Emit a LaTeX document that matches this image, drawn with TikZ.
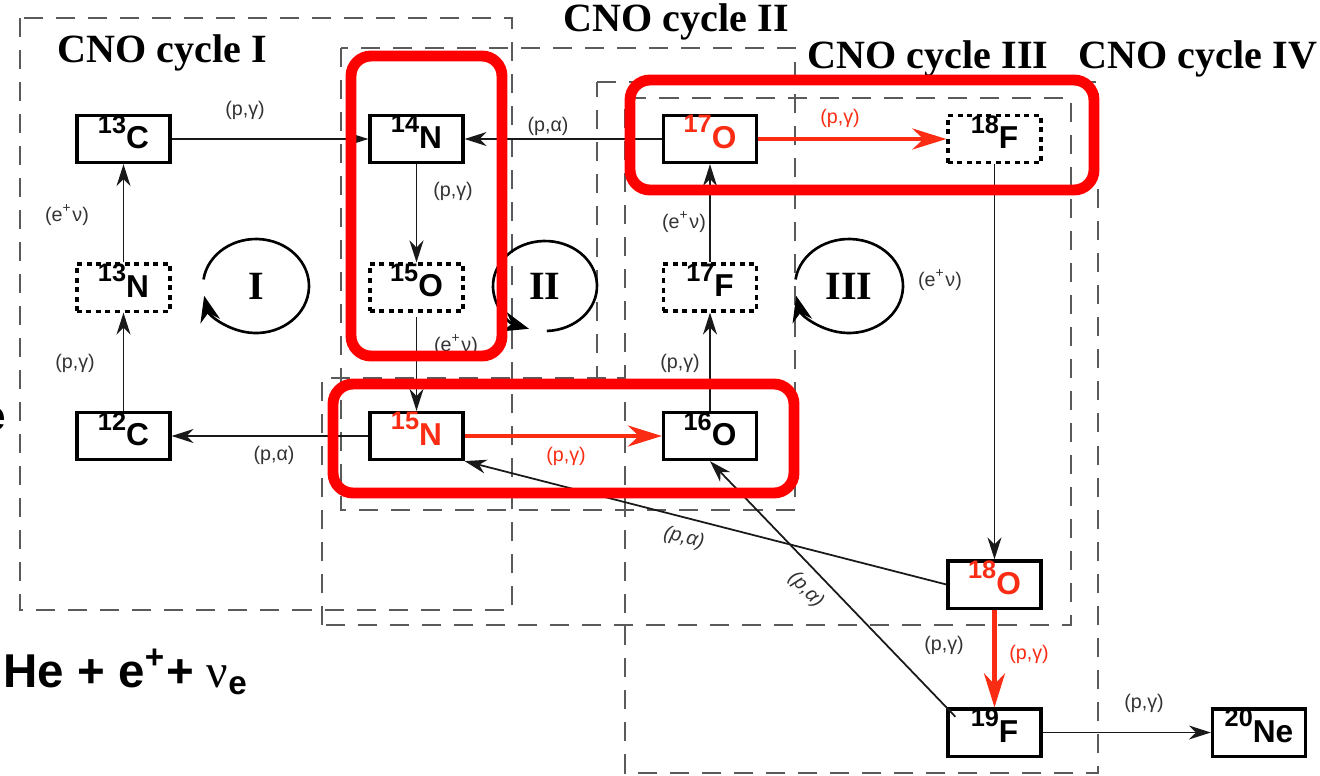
\documentclass[tikz,border=0pt]{standalone}
\usepackage{fontspec}
\setmainfont{Liberation Serif}
\setsansfont{Liberation Sans}
\usetikzlibrary{arrows.meta}

\definecolor{rxn}{RGB}{250,45,20}
\definecolor{hl}{RGB}{255,0,0}
\definecolor{framegray}{RGB}{90,90,90}

% isotope label: mass number raised, element symbol, strut below
\newcommand{\iso}[2]{{\fontsize{7.2}{7}\selectfont\raisebox{4.4pt}{#1}}#2\rule[-1.4mm]{0pt}{1mm}}

\begin{document}
\begin{tikzpicture}[x=0.01cm, y=-0.01cm,
  nuc/.style={draw, line width=0.9pt, minimum width=0.93cm, minimum height=0.47cm, inner sep=0pt,
    font=\fontsize{9}{9}\selectfont\sffamily\bfseries},
  nucdot/.style={nuc, dash pattern=on 0.5mm off 0.45mm},
  rx/.style={font=\fontsize{5.6}{6}\selectfont\sffamily, text=black!80, inner sep=0pt},
  rxred/.style={rx, text=rxn},
  cyctitle/.style={font=\fontsize{11.4}{13}\selectfont\bfseries, anchor=base west, inner sep=0pt},
  roman/.style={font=\fontsize{11.4}{13}\selectfont\bfseries, inner sep=0pt},
  cycframe/.style={draw=framegray, line width=0.4pt, dash pattern=on 1.9mm off 1.3mm},
  rxarrow/.style={draw=black!90, line width=0.5pt, -{Stealth[length=2.2mm,width=1.4mm]}},
  rxarrowred/.style={draw=rxn, line width=1.2pt, -{Stealth[length=3.4mm,width=2.1mm]}},
  cycarrow/.style={line width=0.75pt, -{Stealth[length=2.6mm,width=2mm]}},
  hilite/.style={draw=hl, line width=3.1pt, rounded corners=0.2cm}]

  \path[use as bounding box, fill=white] (0,0) rectangle (1320,775);

  % Cycle frames
  \draw[cycframe] (20,18) rectangle (512,610);
  \draw[cycframe] (341,48) rectangle (795,510);
  \draw[cycframe] (322,625) -- (322,378) -- (625,378) -- (625,98) -- (1071,98) -- (1071,625) -- cycle;
  \draw[cycframe] (597,82) -- (1098,82) -- (1098,773) -- (625,773) -- (625,378) -- (597,378) -- cycle;

  % Titles
  \node[cyctitle] (tI) at (57,62) {CNO cycle I};
  \node[cyctitle] (tII) at (563,31) {CNO cycle II};
  \node[cyctitle] (tIII) at (807,68) {CNO cycle III};
  \node[cyctitle] (tIV) at (1078,68) {CNO cycle IV};

  % Nuclei
  \node[nuc] (c13) at (123.5,139) {\iso{13}{C}};
  \node[nuc] (n14) at (416.5,139) {\iso{14}{N}};
  \node[nuc, text=rxn] (o17) at (710,139) {\iso{17}{O}};
  \node[nucdot] (f18) at (994.5,139) {\iso{18}{F}};
  \node[nucdot] (n13) at (123.5,287.5) {\iso{13}{N}};
  \node[nucdot] (o15) at (416.5,287.5) {\iso{15}{O}};
  \node[nucdot] (f17) at (710,287.5) {\iso{17}{F}};
  \node[nuc] (c12) at (123.5,436) {\iso{12}{C}};
  \node[nuc, text=rxn] (n15) at (416.5,436) {\iso{15}{N}};
  \node[nuc] (o16) at (710,436) {\iso{16}{O}};
  \node[nuc, text=rxn] (o18) at (994.5,584.5) {\iso{18}{O}};
  \node[nuc] (f19) at (994.5,732.5) {\iso{19}{F}};
  \node[nuc] (ne20) at (1259,732.5) {\iso{20}{Ne}};

  % Reactions
  \draw[rxarrow] (c13) -- (n14);
  \draw[rxarrow] (o17) -- (n14);
  \draw[rxarrow] (n14) -- (o15);
  \draw[rxarrow] (n13) -- (c13);
  \draw[rxarrow] (c12) -- (n13);
  \draw[rxarrow, shorten <=0.4mm] (o15) -- (n15);
  \draw[rxarrow] (n15) -- (c12);
  \draw[rxarrow] (o16) -- (f17);
  \draw[rxarrow] (f17) -- (o17);
  \draw[rxarrow] (f18) -- (o18);
  \draw[rxarrow] (o18.west) -- (n15.south east);
  \draw[rxarrow, shorten <=-1.3mm] (f19.north west) -- (o16.south);
  \draw[rxarrow] (f19) -- (ne20);
  \draw[rxarrowred] (n15) -- (o16);
  \draw[rxarrowred] (o17) -- (f18);
  \draw[rxarrowred] (o18) -- (f19);

  % Reaction labels
  \node[rx] (l1) at (245,110) {(p,γ)};
  \node[rx] (l2) at (548,126) {(p,α)};
  \node[rx] (l3) at (453,191) {(p,γ)};
  \node[rx] (l4) at (67,215) {(e\textsuperscript{+}ν)};
  \node[rx] (l5) at (456,345) {(e\textsuperscript{+}ν)};
  \node[rx] (l6) at (75,363) {(p,γ)};
  \node[rx] (l7) at (274,455) {(p,α)};
  \node[rxred] (l8) at (566,456) {(p,γ)};
  \node[rx] (l9) at (680,363) {(p,γ)};
  \node[rx] (l10) at (684,222) {(e\textsuperscript{+}ν)};
  \node[rxred] (l11) at (840,118) {(p,γ)};
  \node[rx] (l12) at (940,280) {(e\textsuperscript{+}ν)};
  \node[rx, rotate=-14, font=\fontsize{5.6}{6}\selectfont\sffamily\itshape] (l13) at (684,538) {(p,α)};
  \node[rx, rotate=-46, font=\fontsize{5.6}{6}\selectfont\sffamily\itshape] (l14) at (806,590) {(p,α)};
  \node[rx] (l15) at (944,645) {(p,γ)};
  \node[rxred] (l16) at (1029,654) {(p,γ)};
  \node[rx] (l17) at (1144,703) {(p,γ)};

  % Cycle loops
  \node[roman] (cI) at (256,286) {I};
  \draw[cycarrow] ([shift={(188:53 and 47)}]cI.center) arc[start angle=188, end angle=528, x radius=53, y radius=47];
  \node[roman] (cII) at (545,286) {II};
  \draw[cycarrow] ([shift={(88:52 and 45)}]cII.center) arc[start angle=88, end angle=-252, x radius=52, y radius=45];
  \node[roman] (cIII) at (849,286) {III};
  \draw[cycarrow] ([shift={(188:54 and 47)}]cIII.center) arc[start angle=188, end angle=528, x radius=54, y radius=47];

  % Highlights
  \draw[hilite] (351,56) rectangle (502,356);
  \draw[hilite] (333,384) rectangle (794,493);
  \draw[hilite] (630,80) rectangle (1094,190);

  % Cut text at the left edge
  \node[anchor=base east, inner sep=0pt, font=\fontsize{12}{14}\selectfont\sffamily\bfseries] (cut) at (7,430) {e};
  \node[anchor=base west, inner sep=0pt, font=\fontsize{13.5}{15}\selectfont\sffamily\bfseries] (sum) at (3,687)
    {He + e\textsuperscript{+}+ {\rmfamily\mdseries ν}\textsubscript{e}};
\end{tikzpicture}
\end{document}
